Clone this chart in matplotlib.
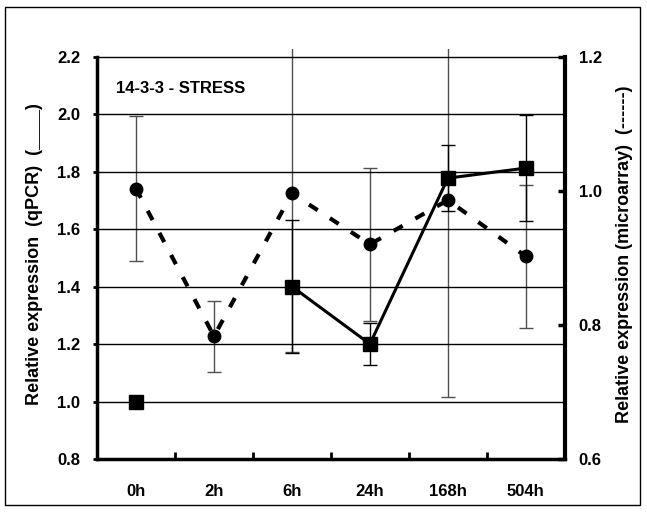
import numpy as np
import matplotlib
matplotlib.use("Agg")
import matplotlib.pyplot as plt
from matplotlib.patches import Rectangle

plt.rcParams['font.family'] = ['Liberation Sans', 'DejaVu Sans']
plt.rcParams['font.weight'] = 'bold'

# data
times = ['0h', '2h', '6h', '24h', '168h', '504h']
qpcr = [1.0, np.nan, 1.40, 1.20, 1.777, 1.812]
qpcr_err = [0.0, np.nan, 0.23, 0.074, 0.116, 0.185]
micro = [1.003, 0.783, 0.996, 0.920, 0.986, 0.902]
micro_err = [0.108, 0.053, 0.237, 0.114, 0.293, 0.106]

left_ticks = [0.8, 1.0, 1.2, 1.4, 1.6, 1.8, 2.0, 2.2]
right_ticks = [0.6, 0.8, 1.0, 1.2]

x = np.arange(len(times))
lo, hi, extra = 0.8, 2.2, 0.025
rlo, rhi = 0.6, 1.2
scale = (rhi - rlo) / (hi - lo)

fig = plt.figure(figsize=(6.47, 5.14), dpi=100)
ax = fig.add_axes([0.150, 0.107, 0.723, 0.797])
ax2 = ax.twinx()

ax.set_xlim(-0.5, 5.5)
ax.set_ylim(lo, hi + extra)
ax2.set_ylim(rlo, rlo + (hi + extra - lo) * scale)

# gridlines
for t in left_ticks[1:]:
    ax.axhline(t, color='black', lw=1.0, zorder=1)

# microarray (dashed, circles) on right axis
ax2.errorbar(x, micro, yerr=micro_err, fmt='none', ecolor='#505050',
             elinewidth=1.0, capsize=5, capthick=1.0, zorder=2)
ax2.plot(x, micro, color='black', lw=3, ls=(0, (2.5, 3.5)), marker='o',
         ms=9, zorder=3)

# qPCR (solid, squares) on left axis
ax.errorbar(x, qpcr, yerr=qpcr_err, fmt='none', ecolor='black',
            elinewidth=1.0, capsize=5, capthick=1.0, zorder=2)
ax.plot(x, qpcr, color='black', lw=2.2, marker='s', ms=10, zorder=3)

ax.set_zorder(ax2.get_zorder() + 1)
ax.patch.set_visible(False)

for a in (ax, ax2):
    a.spines['top'].set_visible(False)
ax.spines['left'].set_bounds(lo, hi)
ax.spines['bottom'].set_linewidth(2.5)
ax.spines['left'].set_linewidth(2.5)
ax2.spines['right'].set_bounds(rlo, rhi)
ax2.spines['right'].set_linewidth(3)
ax2.spines['left'].set_visible(False)
ax2.spines['bottom'].set_visible(False)
ax.spines['right'].set_visible(False)

ax.set_xticks(x)
ax.set_xticklabels(times, fontsize=12, fontweight='bold')
ax.set_xticks(np.arange(0.5, 5.5, 1.0), minor=True)
ax.tick_params(axis='x', which='major', length=0, pad=18)
ax.tick_params(axis='x', which='minor', direction='in', length=5, width=2)

ax.set_yticks(left_ticks)
ax.set_yticklabels(['%.1f' % t for t in left_ticks], fontsize=12, fontweight='bold')
ax.tick_params(axis='y', direction='out', length=3, width=2, pad=9)

ax2.set_yticks(right_ticks)
ax2.set_yticklabels(['%.1f' % t for t in right_ticks], fontsize=12, fontweight='bold')
ax2.tick_params(axis='y', direction='in', length=5, width=2.5, pad=10)

ax.set_ylabel('Relative expression  (qPCR)  (____)', fontsize=13,
              fontweight='bold', labelpad=10)
ax2.set_ylabel('Relative expression (microarray)  (------)', fontsize=13,
               fontweight='bold', rotation=90, labelpad=10)

ax.text(0.04, 0.905, '14-3-3 - STRESS', transform=ax.transAxes,
        fontsize=12, fontweight='bold', va='center', ha='left')

fig.patches.append(Rectangle((5 / 647, 9 / 514), 635 / 647, 498 / 514,
                             transform=fig.transFigure, fill=False,
                             edgecolor='black', lw=1.0))

fig.savefig('out.png', dpi=100)
